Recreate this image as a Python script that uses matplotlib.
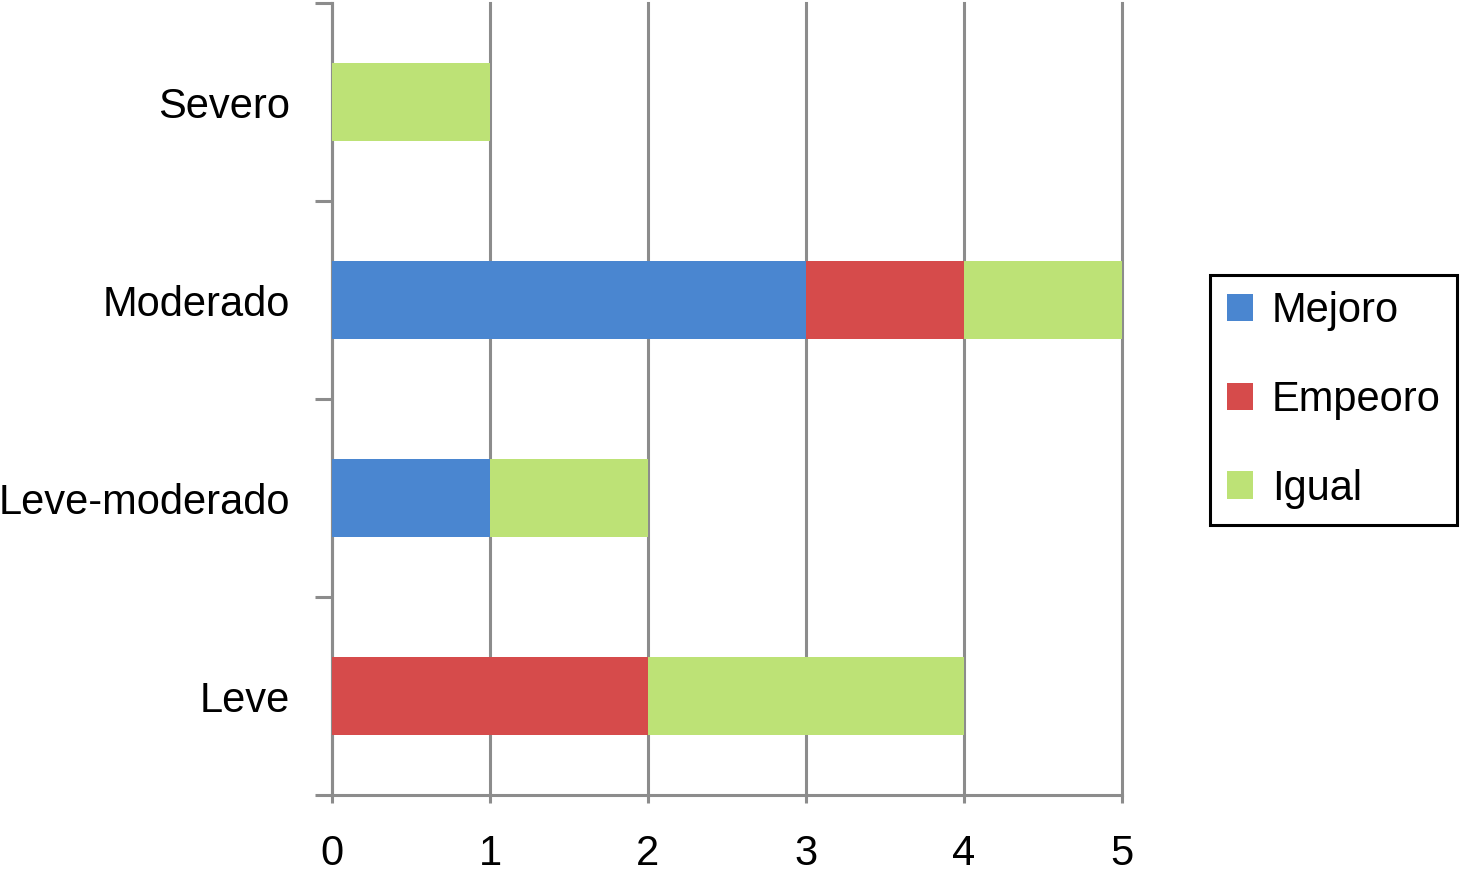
import numpy as np
import matplotlib.pyplot as plt

# data
categorias = ['Leve', 'Leve-moderado', 'Moderado', 'Severo']
mejoro = [0, 1, 3, 0]
empeoro = [2, 0, 1, 0]
igual = [2, 1, 1, 1]

plt.rcParams['font.family'] = ['Liberation Sans', 'DejaVu Sans']

fig = plt.figure(figsize=(14.61, 8.72), dpi=100)
ax = fig.add_axes([332/1461, 1 - 795/872, 790/1461, 792/872])

y = np.arange(len(categorias))
alto = 0.39
left = np.zeros(len(categorias))
for vals, col, lab in [(mejoro, '#4a86d0', 'Mejoro'),
                       (empeoro, '#d64b4b', 'Empeoro'),
                       (igual, '#bde276', 'Igual')]:
    ax.barh(y, vals, height=alto, left=left, color=col, label=lab, zorder=3)
    left = left + np.array(vals)

gris = '#8c8c8c'
ax.set_xlim(0, 5)
ax.set_ylim(-0.5, 3.5)
ax.set_xticks(range(6))
ax.xaxis.grid(True, color=gris, linewidth=2.2, zorder=0)
for gl in ax.get_xgridlines():
    gl.set_clip_on(False)
ax.set_axisbelow(True)

ax.set_yticks(np.arange(-0.5, 4, 1))
ax.set_yticklabels([])
ax.set_yticks(y, minor=True)
ax.set_yticklabels(categorias, minor=True)
ax.tick_params(axis='y', which='major', length=12, width=2.2, color=gris, direction='out')
ax.tick_params(axis='y', which='minor', length=0, pad=30, labelsize=30)
ax.tick_params(axis='x', length=6, width=2.2, color=gris, direction='out', pad=22, labelsize=30)

for s in ['top', 'right']:
    ax.spines[s].set_visible(False)
for s in ['left', 'bottom']:
    ax.spines[s].set_color(gris)
    ax.spines[s].set_linewidth(2.2)

leg = ax.legend(loc='center left', bbox_to_anchor=(1210/1461, 1 - 400/872),
                bbox_transform=fig.transFigure, fontsize=30, frameon=True,
                fancybox=False, edgecolor='black', handlelength=0.63,
                handleheight=0.63, handletextpad=0.45, labelspacing=1.17,
                borderpad=0.4, borderaxespad=0)
leg.get_frame().set_linewidth(2.2)
leg.get_frame().set_alpha(1)

fig.savefig('out.png', dpi=100)
